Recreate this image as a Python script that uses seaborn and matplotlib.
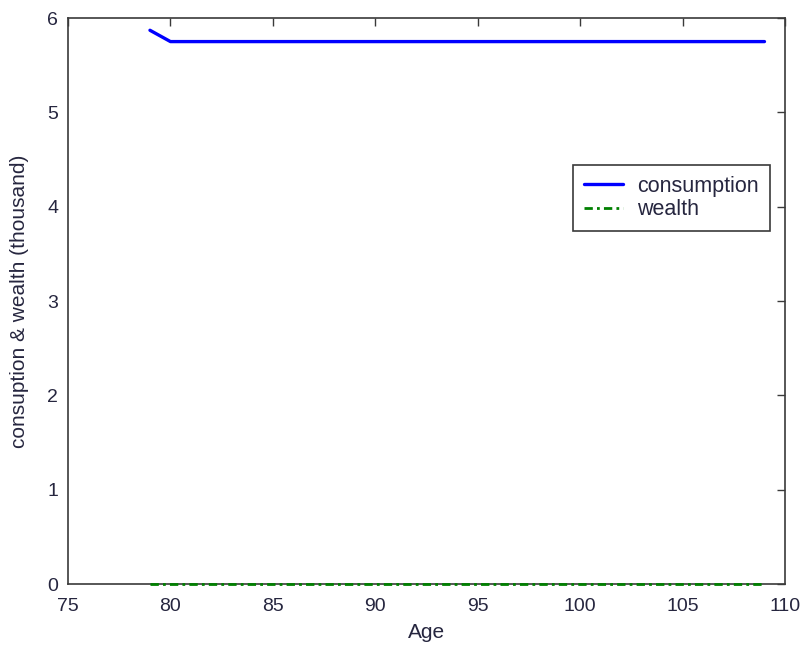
import matplotlib
matplotlib.use("Agg")
import matplotlib.pyplot as plt
import seaborn as sns
import pandas as pd

# Age path and simulated series (thousand)
age = [79, 80, 81, 82, 83, 84, 85, 86, 87, 88, 89, 90, 91, 92, 93, 94, 95,
       96, 97, 98, 99, 100, 101, 102, 103, 104, 105, 106, 107, 108, 109]
consumption = [5.87, 5.75, 5.75, 5.75, 5.75, 5.75, 5.75, 5.75, 5.75, 5.75,
               5.75, 5.75, 5.75, 5.75, 5.75, 5.75, 5.75, 5.75, 5.75, 5.75,
               5.75, 5.75, 5.75, 5.75, 5.75, 5.75, 5.75, 5.75, 5.75, 5.75,
               5.75]
wealth = [0.0, 0.0, 0.0, 0.0, 0.0, 0.0, 0.0, 0.0, 0.0, 0.0, 0.0, 0.0, 0.0,
          0.0, 0.0, 0.0, 0.0, 0.0, 0.0, 0.0, 0.0, 0.0, 0.0, 0.0, 0.0, 0.0,
          0.0, 0.0, 0.0, 0.0, 0.0]
xticks = [75, 80, 85, 90, 95, 100, 105, 110]
yticks = [0, 1, 2, 3, 4, 5, 6]

df = pd.DataFrame({"Age": age, "consumption": consumption, "wealth": wealth})

sns.set_style("white")
plt.rcParams["font.family"] = ["Liberation Sans", "DejaVu Sans"]

TXT = "#26263f"
AX = "#3a3a3a"

fig = plt.figure(figsize=(8.07, 6.5), dpi=100)
ax = fig.add_axes([0.0843, 0.1015, 0.8884, 0.8708])

sns.lineplot(data=df, x="Age", y="consumption", ax=ax, color="#0000ff",
             linewidth=2.4, label="consumption", zorder=4)
sns.lineplot(data=df, x="Age", y="wealth", ax=ax, color="#008000",
             linewidth=2.0, linestyle=(0, (3, 1.5, 1, 1.5)), label="wealth",
             zorder=5, clip_on=False)

ax.set_xlim(75, 110)
ax.set_ylim(0, 6)
ax.set_xticks(xticks)
ax.set_yticks(yticks)
ax.set_xlabel("Age", fontsize=15, color=TXT, labelpad=6)
ax.set_ylabel("consuption & wealth (thousand)", fontsize=15, color=TXT,
              labelpad=13)
ax.tick_params(direction="in", length=6, width=1, top=True, right=True,
               labelsize=14, colors=AX, labelcolor=TXT)
ax.tick_params(axis="x", pad=10)
ax.tick_params(axis="y", pad=7)
for s in ax.spines.values():
    s.set_visible(True)
    s.set_color(AX)
    s.set_linewidth(1.2)
    s.set_zorder(3)

leg = ax.legend(loc="upper left", bbox_to_anchor=(0.704, 0.740), fontsize=15.5,
                frameon=True, fancybox=False, framealpha=1, edgecolor=AX,
                handlelength=1.85, handletextpad=0.65, borderpad=0.5,
                labelspacing=0.1, borderaxespad=0)
leg.get_frame().set_linewidth(1.2)
for t in leg.get_texts():
    t.set_color(TXT)

fig.savefig("out.png", dpi=100, facecolor="white")
